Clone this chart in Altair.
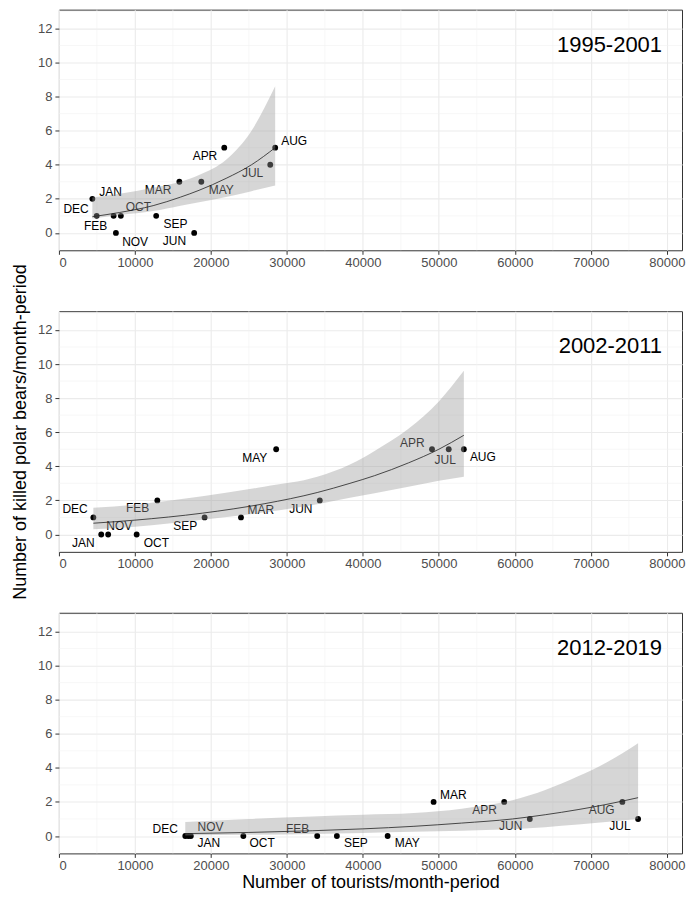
import altair as alt
import pandas as pd

FONT = "Liberation Sans"

periods = ["1995-2001", "2002-2011", "2012-2019"]

# ---- Panel 1: 1995-2001 ----
p1_month = ["DEC", "JAN", "FEB", "NOV", "OCT", "SEP", "MAR", "JUN", "MAY", "APR", "JUL", "AUG"]
p1_tourists = [4400, 4970, 7200, 7500, 8150, 12800, 15850, 17800, 18740, 21760, 27810, 28460]
p1_bears = [2, 1, 1, 0, 1, 1, 3, 0, 3, 5, 4, 5]
p1_lab_x = [2250, 6790, 4840, 10030, 10450, 15340, 13040, 15200, 21370, 19220, 25480, 30960]
p1_lab_y = [1.38, 2.38, 0.42, -0.54, 1.53, 0.52, 2.49, -0.5, 2.49, 4.51, 3.53, 5.41]
p1_fit_x = [4400, 8000, 12400, 16000, 18440, 22000, 25350, 28460]
p1_fit = [0.95, 1.2, 1.6, 2.1, 2.5, 3.2, 4.0, 5.0]
p1_lower = [0.85, 1.05, 1.28, 1.6, 1.8, 2.1, 2.45, 2.78]
p1_upper = [2.08, 2.3, 2.65, 3.0, 3.4, 4.3, 6.0, 8.6]

# ---- Panel 2: 2002-2011 ----
p2_month = ["DEC", "JAN", "NOV", "OCT", "FEB", "SEP", "MAR", "MAY", "JUN", "APR", "JUL", "AUG"]
p2_tourists = [4530, 5570, 6480, 10230, 12950, 19170, 23960, 28590, 34330, 49100, 51300, 53290]
p2_bears = [1, 0, 0, 0, 2, 1, 1, 5, 2, 5, 5, 5]
p2_lab_x = [2120, 3200, 7950, 12830, 10360, 16630, 26560, 25780, 31830, 46500, 50830, 55790]
p2_lab_y = [1.48, -0.48, 0.47, -0.48, 1.54, 0.47, 1.43, 4.48, 1.48, 5.38, 4.39, 4.52]
p2_fit_x = [4530, 10000, 18870, 27000, 33990, 38300, 41540, 46000, 50000, 53290]
p2_fit = [0.66, 0.84, 1.25, 1.8, 2.46, 3.0, 3.45, 4.2, 5.0, 5.82]
p2_lower = [0.3, 0.45, 0.86, 1.3, 1.77, 2.15, 2.42, 2.8, 3.15, 3.38]
p2_upper = [1.57, 1.75, 2.24, 2.8, 3.38, 4.1, 4.9, 6.2, 7.8, 9.6]

# ---- Panel 3: 2012-2019 ----
p3_month = ["DEC", "JAN", "NOV", "OCT", "FEB", "SEP", "MAY", "MAR", "APR", "JUN", "AUG", "JUL"]
p3_tourists = [16630, 17020, 17360, 24270, 33990, 36580, 43260, 49310, 58600, 61970, 74150, 76220]
p3_bears = [0, 0, 0, 0, 0, 0, 0, 2, 2, 1, 2, 1]
p3_lab_x = [13990, 19740, 19950, 26740, 31400, 39080, 45850, 51900, 56010, 59460, 71420, 73830]
p3_lab_y = [0.44, -0.43, 0.51, -0.43, 0.44, -0.43, -0.43, 2.42, 1.53, 0.57, 1.53, 0.61]
p3_fit_x = [16630, 25000, 33340, 40000, 46720, 53000, 59680, 64000, 68320, 72000, 76220]
p3_fit = [0.14, 0.21, 0.31, 0.42, 0.57, 0.76, 1.0, 1.25, 1.55, 1.85, 2.25]
p3_lower = [0.03, 0.07, 0.12, 0.18, 0.25, 0.31, 0.4, 0.52, 0.67, 0.82, 1.0]
p3_upper = [0.82, 1.0, 1.15, 1.25, 1.35, 1.6, 2.1, 2.7, 3.5, 4.3, 5.45]

x_major = [0, 10000, 20000, 30000, 40000, 50000, 60000, 70000, 80000]
x_minor = [5000, 15000, 25000, 35000, 45000, 55000, 65000, 75000]
y_major = [0, 2, 4, 6, 8, 10, 12]
y_minor = [1, 3, 5, 7, 9, 11, 13]
X_DOMAIN = [0, 82000]
Y_DOMAIN = [-1.02, 13.1]

W, H = 624, 241

XS = alt.Scale(domain=X_DOMAIN, nice=False, zero=False)
YS = alt.Scale(domain=Y_DOMAIN, nice=False, zero=False)


def x_axis(title):
    return alt.Axis(
        values=x_major, format="d",
        grid=True, gridColor="#EBEBEB", gridWidth=1.1,
        tickColor="#333333", tickSize=4, tickWidth=1,
        labelColor="#4D4D4D", labelFontSize=13, labelFont=FONT,
        labelPadding=2, labelOverlap=False, domain=False,
        titleFont=FONT, titleFontSize=18, titleFontWeight="normal",
        titleColor="#000000", titlePadding=1,
        title=title if title else None,
    )


def y_axis(title):
    return alt.Axis(
        values=y_major,
        grid=True, gridColor="#EBEBEB", gridWidth=1.1,
        tickColor="#333333", tickSize=4, tickWidth=1,
        labelColor="#4D4D4D", labelFontSize=13, labelFont=FONT,
        labelPadding=3, labelOverlap=False, domain=False,
        titleFont=FONT, titleFontSize=18, titleFontWeight="normal",
        titleColor="#000000", titlePadding=8,
        title=title if title else None,
    )


def panel(period, month, tourists, bears, lab_x, lab_y, fit_x, fit, lower, upper,
          xtitle=None, ytitle=None):
    pts = pd.DataFrame({"month": month, "tourists": tourists, "bears": bears,
                        "lx": lab_x, "ly": lab_y})
    band = pd.DataFrame({"x": fit_x, "fit": fit, "lower": lower, "upper": upper})
    xa = x_axis(xtitle)
    ya = y_axis(ytitle)

    def X(f):
        return alt.X(f, scale=XS, axis=xa)

    def Y(f):
        return alt.Y(f, scale=YS, axis=ya)

    vgrid = alt.Chart(pd.DataFrame({"v": x_minor})).mark_rule(
        color="#F2F2F2", strokeWidth=0.6).encode(x=X("v:Q"))
    hgrid = alt.Chart(pd.DataFrame({"h": y_minor})).mark_rule(
        color="#F2F2F2", strokeWidth=0.6).encode(y=Y("h:Q"))
    points = alt.Chart(pts).mark_circle(size=34, color="#000000", opacity=1).encode(
        x=X("tourists:Q"), y=Y("bears:Q"))
    labels = alt.Chart(pts).mark_text(font=FONT, fontSize=12, color="#000000",
                                      align="center", baseline="middle").encode(
        x=X("lx:Q"), y=Y("ly:Q"), text="month:N")
    ribbon = alt.Chart(band).mark_area(color="#999999", opacity=0.4,
                                       interpolate="monotone").encode(
        x=X("x:Q"), y=Y("lower:Q"), y2="upper:Q")
    line = alt.Chart(band).mark_line(color="#222222", strokeWidth=0.8,
                                     interpolate="monotone").encode(
        x=X("x:Q"), y=Y("fit:Q"))
    tag = alt.Chart(pd.DataFrame({"t": [period]})).mark_text(
        font=FONT, fontSize=22, color="#000000", align="right",
        baseline="alphabetic").encode(
        x=alt.value(604), y=alt.value(42), text="t:N")
    return alt.layer(vgrid, hgrid, points, labels, ribbon, line, tag).properties(
        width=W, height=H)


c1 = panel(periods[0], p1_month, p1_tourists, p1_bears, p1_lab_x, p1_lab_y,
           p1_fit_x, p1_fit, p1_lower, p1_upper)
c2 = panel(periods[1], p2_month, p2_tourists, p2_bears, p2_lab_x, p2_lab_y,
           p2_fit_x, p2_fit, p2_lower, p2_upper,
           ytitle="Number of killed polar bears/month-period")
c3 = panel(periods[2], p3_month, p3_tourists, p3_bears, p3_lab_x, p3_lab_y,
           p3_fit_x, p3_fit, p3_lower, p3_upper,
           xtitle="Number of tourists/month-period")

chart = alt.vconcat(c1, c2, c3, spacing=61, bounds="flush").properties(
    padding={"left": 3, "top": 0, "right": 0, "bottom": 0},
    background="white",
).configure_view(
    stroke="#333333", strokeWidth=1
)

chart.save("out.html", embed_options={"renderer": "svg", "actions": False})
